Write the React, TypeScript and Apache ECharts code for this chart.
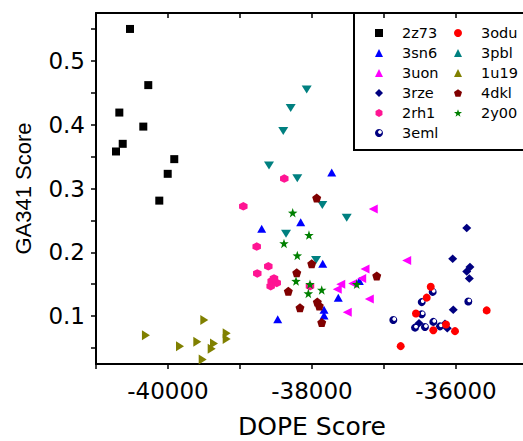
import React, { useEffect, useRef } from 'react';
import * as echarts from 'echarts';

// ---- data (DOPE score, GA341 score) ----
const d2z73 = [[-40528, 0.550], [-40274, 0.462], [-40676, 0.419], [-40343, 0.397], [-40629, 0.370], [-40722, 0.358], [-39913, 0.346], [-40004, 0.323], [-40121, 0.281]];
const d3sn6 = [[-37726, 0.325], [-38157, 0.247], [-38699, 0.237], [-37851, 0.182], [-37343, 0.155], [-37635, 0.129], [-37833, 0.110], [-37833, 0.101], [-38476, 0.095]];
const d3uon = [[-37149, 0.268], [-36685, 0.187], [-37264, 0.174], [-37310, 0.159], [-37435, 0.151], [-37601, 0.150], [-37649, 0.142], [-37204, 0.127], [-37510, 0.106]];
const d3rze = [[-35851, 0.238], [-36046, 0.190], [-35806, 0.177], [-35851, 0.170], [-35815, 0.159], [-36038, 0.110], [-36153, 0.088], [-36121, 0.081], [-36514, 0.089]];
const d2rh1 = [[-38954, 0.272], [-38385, 0.3155], [-38768, 0.209], [-38607, 0.178], [-38760, 0.167], [-38560, 0.155], [-38490, 0.152], [-38574, 0.147], [-38528, 0.159], [-38028, 0.147]];
const d3eml = [[-36324, 0.138], [-36476, 0.122], [-36476, 0.103], [-36871, 0.094], [-36569, 0.082], [-36431, 0.083], [-36315, 0.091], [-36222, 0.084], [-35829, 0.123]];
const d3odu = [[-36351, 0.146], [-36407, 0.129], [-36556, 0.104], [-36315, 0.078], [-36768, 0.053], [-36139, 0.087], [-36014, 0.0765], [-35574, 0.109]];
const d3pbl = [[-38074, 0.455], [-38296, 0.426], [-38399, 0.390], [-38597, 0.336], [-38204, 0.316], [-37857, 0.274], [-37518, 0.254], [-38361, 0.229], [-37944, 0.188]];
const d1u19 = [[-40306, 0.070], [-39833, 0.053], [-39593, 0.060], [-39496, 0.094], [-39361, 0.057], [-39393, 0.049], [-39518, 0.032], [-39185, 0.073], [-39185, 0.064]];
const d4dkl = [[-37935, 0.285], [-38004, 0.182], [-38212, 0.168], [-38329, 0.139], [-38167, 0.113], [-37926, 0.122], [-37899, 0.116], [-37865, 0.090], [-37101, 0.163]];
const d2y00 = [[-38268, 0.262], [-38042, 0.227], [-38389, 0.214], [-38204, 0.195], [-38222, 0.155], [-38028, 0.150], [-38051, 0.1355], [-37865, 0.141], [-37379, 0.150]];

const legendCol1 = ['2z73', '3sn6', '3uon', '3rze', '2rh1', '3eml'];
const legendCol2 = ['3odu', '3pbl', '1u19', '4dkl', '2y00'];

const xLabelValues = [-40000, -38000, -36000];
const yLabelValues = [0.1, 0.2, 0.3, 0.4, 0.5];
const yTickValues = [0.05, 0.1, 0.15, 0.2, 0.25, 0.3, 0.35, 0.4, 0.45, 0.5, 0.55];

const FONT = 'Liberation Sans, Arial, sans-serif';
const WIDE = 'DejaVu Sans, Verdana, sans-serif';
const HEX = 'path://M0,-1 L0.866,-0.5 L0.866,0.5 L0,1 L-0.866,0.5 L-0.866,-0.5 Z';
const PENT = 'path://M0,-1 L0.951,-0.309 L0.588,0.809 L-0.588,0.809 L-0.951,-0.309 Z';
const STAR = 'path://M0,-1 L0.235,-0.324 L0.951,-0.309 L0.380,0.124 L0.588,0.809 L0,0.4 L-0.588,0.809 L-0.380,0.124 L-0.951,-0.309 L-0.235,-0.324 Z';

const sphere = {
  type: 'radial', x: 0.62, y: 0.38, r: 0.62,
  colorStops: [
    { offset: 0, color: '#ffffff' },
    { offset: 0.28, color: '#ffffff' },
    { offset: 0.45, color: '#000080' },
    { offset: 1, color: '#000080' },
  ],
};

export default function App() {
  const ref = useRef<HTMLDivElement>(null);
  useEffect(() => {
    const chart = echarts.init(ref.current!, null, { renderer: 'svg' });
    const mk = (name: string, data: number[][], symbol: string, size: any, color: any, rotate = 0) => ({
      type: 'scatter', name, data, symbol, symbolSize: size, symbolRotate: rotate,
      symbolKeepAspect: false,
      itemStyle: { color, opacity: 1 },
      emphasis: { disabled: true },
    });
    const axisLine = () => ({ show: true, onZero: false, lineStyle: { color: '#000', width: 2 } });
    const legendBase = {
      orient: 'vertical', top: 23.5, itemWidth: 8, itemHeight: 8, itemGap: 1, padding: 0,
      selectedMode: false,
      textStyle: { fontFamily: WIDE, fontSize: 14.5, color: '#000', lineHeight: 19, padding: [0, 0, 0, 14] },
    };
    chart.setOption({
      animation: false,
      backgroundColor: '#fff',
      textStyle: { fontFamily: FONT },
      grid: { left: 96, top: 13, width: 432, height: 351, containLabel: false, outerBoundsMode: 'none' },
      xAxis: [
        {
          type: 'value', position: 'bottom', min: -41000, max: -35000, interval: 1000,
          axisLine: axisLine(), splitLine: { show: false },
          axisTick: { show: true, inside: false, length: 5, lineStyle: { color: '#000', width: 1.5 } },
          axisLabel: { formatter: (v: number) => (xLabelValues.indexOf(v) >= 0 ? String(v) : ''), fontSize: 23, color: '#000', margin: 15, fontFamily: WIDE },
          name: 'DOPE Score', nameLocation: 'middle', nameGap: 50,
          nameTextStyle: { fontSize: 25, color: '#000', fontFamily: WIDE },
        },
        {
          type: 'value', position: 'top', min: -41000, max: -35000, interval: 1000,
          axisLine: axisLine(), splitLine: { show: false },
          axisTick: { show: true, inside: true, length: 5, lineStyle: { color: '#000', width: 1.5 } },
          axisLabel: { show: false },
        },
      ],
      yAxis: [
        {
          type: 'value', position: 'left', min: 0.025, max: 0.575,
          axisLine: axisLine(), splitLine: { show: false },
          axisTick: { show: true, inside: false, length: 5, lineStyle: { color: '#000', width: 1.5 }, customValues: yTickValues },
          axisLabel: { customValues: yLabelValues, formatter: (v: number) => v.toFixed(1), fontSize: 23, color: '#000', margin: 11, fontFamily: WIDE },
          name: 'GA341 Score', nameLocation: 'middle', nameGap: 62,
          nameTextStyle: { fontSize: 22, color: '#000', fontFamily: FONT },
        },
        {
          type: 'value', position: 'right', min: 0.025, max: 0.575,
          axisLine: axisLine(), splitLine: { show: false },
          axisTick: { show: true, inside: true, length: 5, lineStyle: { color: '#000', width: 1.5 }, customValues: yTickValues },
          axisLabel: { show: false },
        },
      ],
      legend: [
        { ...legendBase, left: 375, data: legendCol1 },
        { ...legendBase, left: 454, data: legendCol2 },
      ],
      graphic: [
        { type: 'rect', z: 0, shape: { x: 354, y: 13, width: 220, height: 137 }, style: { fill: '#fff', stroke: '#000', lineWidth: 2 } },
      ],
      series: [
        mk('2z73', d2z73, 'rect', 8, '#000000'),
        mk('3sn6', d3sn6, 'triangle', [9, 8], '#0000ff'),
        mk('3uon', d3uon, 'triangle', [9, 9], '#ff00ff', 90),
        mk('3rze', d3rze, 'diamond', [9, 8.5], '#000080'),
        mk('2rh1', d2rh1, HEX, 8.5, '#ff1493'),
        mk('3eml', d3eml, 'circle', 8, sphere),
        mk('3odu', d3odu, 'circle', 8, '#ff0000'),
        mk('3pbl', d3pbl, 'triangle', [10, 8], '#008080', 180),
        mk('1u19', d1u19, 'triangle', [10, 8], '#808000', -90),
        mk('4dkl', d4dkl, PENT, 9, '#800000'),
        mk('2y00', d2y00, STAR, 9.5, '#008000'),
      ],
    });
    return () => chart.dispose();
  }, []);
  return <div ref={ref} style={{ position: 'fixed', left: 0, top: 0, width: 523, height: 441, background: '#fff' }} />;
}
